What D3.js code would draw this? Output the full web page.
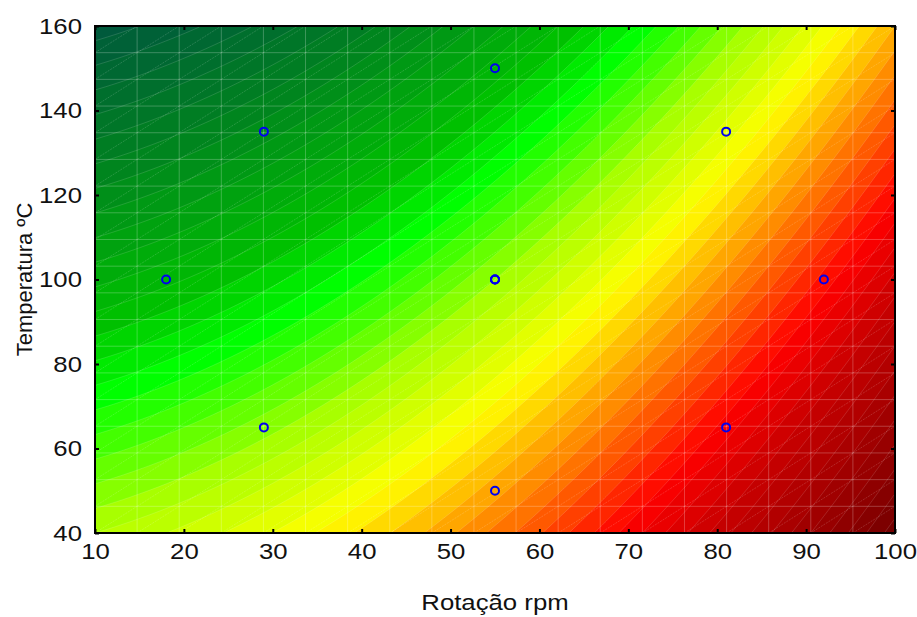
<!DOCTYPE html>
<html>
<head>
<meta charset="utf-8">
<script src="https://cdn.jsdelivr.net/npm/d3@7"></script>
<style>
  body { margin: 0; background: #fff; }
  text { font-family: "Liberation Sans", Arial, sans-serif; fill: #111; }
</style>
</head>
<body>
<svg id="chart" width="917" height="617"></svg>
<script>
const width = 917,
  height = 617;
const margin = { top: 26, right: 22, bottom: 84, left: 95 };

// axes
const xDomain = [10, 100];
const yDomain = [40, 160];
const xTicks = [10, 20, 30, 40, 50, 60, 70, 80, 90, 100];
const yTicks = [40, 60, 80, 100, 120, 140, 160];

// design points (central composite design, centre run repeated)
const pointsX = [18, 29, 29, 55, 55, 55, 55, 55, 81, 81, 92];
const pointsY = [100, 65, 135, 50, 100, 100, 100, 150, 65, 135, 100];

// fitted second-order model in coded units u=(x-55)/45, v=(y-100)/60
// [b0, bu, bv, buu, bvv, buv]
const coef = [0.5, 1.38, -1.03, 0.45, 0, 0];

// contour levels and colour ramp
const levelStep = 0.1;
const levelMin = -1.6,
  levelMax = 3.5;
const rampStops = [-1.5, -0.9, -0.25, 0.05, 0.55, 1, 2, 2.4, 3.4];
const rampColors = [
  "#00563f", "#008020", "#00c000", "#00ff00", "#a8ff00",
  "#ffff00", "#ff0000", "#c80000", "#700000",
];

const meshCells = 19;
const textStretch = 1.17;

const svg = d3.select("#chart");
const x = d3.scaleLinear().domain(xDomain).range([margin.left, width - margin.right]);
const y = d3.scaleLinear().domain(yDomain).range([height - margin.bottom, margin.top]);
const color = d3.scaleLinear().domain(rampStops).range(rampColors).clamp(true);

function model(xv, yv) {
  const u = (xv - 55) / 45,
    v = (yv - 100) / 60;
  return coef[0] + coef[1] * u + coef[2] * v + coef[3] * u * u + coef[4] * v * v + coef[5] * u * v;
}

// sample the surface
const nx = 400,
  ny = 254;
const dx = (xDomain[1] - xDomain[0]) / nx,
  dy = (yDomain[1] - yDomain[0]) / ny;
const values = new Array(nx * ny);
for (let j = 0; j < ny; j++) {
  for (let i = 0; i < nx; i++) {
    values[j * nx + i] = model(xDomain[0] + (i + 0.5) * dx, yDomain[0] + (j + 0.5) * dy);
  }
}
const levels = d3.range(levelMin, levelMax, levelStep);
const contours = d3.contours().size([nx, ny]).thresholds(levels)(values);

const proj = d3.geoTransform({
  point: function (gx, gy) {
    this.stream.point(x(xDomain[0] + gx * dx), y(yDomain[0] + gy * dy));
  },
});
const path = d3.geoPath(proj);

svg.append("clipPath").attr("id", "plotclip")
  .append("rect")
  .attr("x", x(xDomain[0]))
  .attr("y", y(yDomain[1]))
  .attr("width", x(xDomain[1]) - x(xDomain[0]))
  .attr("height", y(yDomain[0]) - y(yDomain[1]));

const plot = svg.append("g").attr("clip-path", "url(#plotclip)");

plot.selectAll("path.band")
  .data(contours)
  .join("path")
  .attr("class", "band")
  .attr("d", path)
  .attr("fill", (d) => color(d.value + levelStep / 2))
  .attr("stroke", "none");

// faint seams of the rendered mesh
plot.selectAll("path.seam")
  .data(contours)
  .join("path")
  .attr("class", "seam")
  .attr("d", path)
  .attr("fill", "none")
  .attr("stroke", "#fff")
  .attr("stroke-opacity", 0.2)
  .attr("stroke-width", 0.7);

const mx = d3.range(meshCells + 1).map((k) => xDomain[0] + (k * (xDomain[1] - xDomain[0])) / meshCells);
const my = d3.range(meshCells + 1).map((k) => yDomain[0] + (k * (yDomain[1] - yDomain[0])) / meshCells);

const mesh = plot.append("g")
  .attr("stroke", "#fff")
  .attr("stroke-opacity", 0.3)
  .attr("stroke-width", 0.8);
mesh.selectAll("line.mv").data(mx).join("line")
  .attr("x1", (d) => x(d)).attr("x2", (d) => x(d))
  .attr("y1", y(yDomain[0])).attr("y2", y(yDomain[1]));
mesh.selectAll("line.mh").data(my).join("line")
  .attr("y1", (d) => y(d)).attr("y2", (d) => y(d))
  .attr("x1", x(xDomain[0])).attr("x2", x(xDomain[1]));

const cells = [];
for (let i = 0; i < meshCells; i++) for (let j = 0; j < meshCells; j++) cells.push([i, j]);
mesh.selectAll("line.md").data(cells).join("line")
  .attr("stroke-opacity", 0.2)
  .attr("stroke-dasharray", "2,1")
  .attr("x1", (d) => x(mx[d[0]])).attr("y1", (d) => y(my[d[1]]))
  .attr("x2", (d) => x(mx[d[0] + 1])).attr("y2", (d) => y(my[d[1] + 1]));

// design points
svg.selectAll("circle.pt")
  .data(d3.zip(pointsX, pointsY))
  .join("circle")
  .attr("class", "pt")
  .attr("cx", (d) => x(d[0]))
  .attr("cy", (d) => y(d[1]))
  .attr("r", 4)
  .attr("fill", "none")
  .attr("stroke", "#0000f0")
  .attr("stroke-width", 2);

// frame
svg.append("rect")
  .attr("x", x(xDomain[0]))
  .attr("y", y(yDomain[1]))
  .attr("width", x(xDomain[1]) - x(xDomain[0]))
  .attr("height", y(yDomain[0]) - y(yDomain[1]))
  .attr("fill", "none")
  .attr("stroke", "#000")
  .attr("stroke-width", 2);

// inward ticks on all sides
const tickLen = 4;
const axisBottom = d3.axisBottom(x).tickValues(xTicks).tickSize(-tickLen).tickPadding(10);
const axisLeft = d3.axisLeft(y).tickValues(yTicks).tickSize(-tickLen).tickPadding(13);

const gx = svg.append("g")
  .attr("transform", `translate(0,${y(yDomain[0])})`)
  .call(axisBottom);
const gy = svg.append("g")
  .attr("transform", `translate(${x(xDomain[0])},0)`)
  .call(axisLeft);
svg.append("g")
  .attr("transform", `translate(0,${y(yDomain[1])})`)
  .call(d3.axisTop(x).tickValues(xTicks).tickSize(-tickLen).tickFormat(""));
svg.append("g")
  .attr("transform", `translate(${x(xDomain[1])},0)`)
  .call(d3.axisRight(y).tickValues(yTicks).tickSize(-tickLen).tickFormat(""));

svg.selectAll(".domain").remove();
svg.selectAll(".tick line").attr("stroke", "#000").attr("stroke-width", 2);
gx.selectAll("text").style("font-size", "22px").attr("fill", "#111");
gy.selectAll("text").style("font-size", "22px").attr("fill", "#111");

// axis titles
svg.append("text")
  .attr("class", "wide")
  .attr("x", (x(xDomain[0]) + x(xDomain[1])) / 2)
  .attr("y", 610)
  .attr("text-anchor", "middle")
  .style("font-size", "22px")
  .text("Rotação rpm");

svg.append("text")
  .attr("transform", `translate(32,${(y(yDomain[0]) + y(yDomain[1])) / 2}) rotate(-90)`)
  .attr("text-anchor", "middle")
  .style("font-size", "22px")
  .text("Temperatura ºC");

// the source picture has slightly wide lettering
gx.selectAll("text").classed("wide", true);
gy.selectAll("text").classed("wide", true);
svg.selectAll("text.wide").each(function () {
  const len = this.getComputedTextLength();
  d3.select(this)
    .attr("textLength", len * textStretch)
    .attr("lengthAdjust", "spacingAndGlyphs");
});
</script>
</body>
</html>
